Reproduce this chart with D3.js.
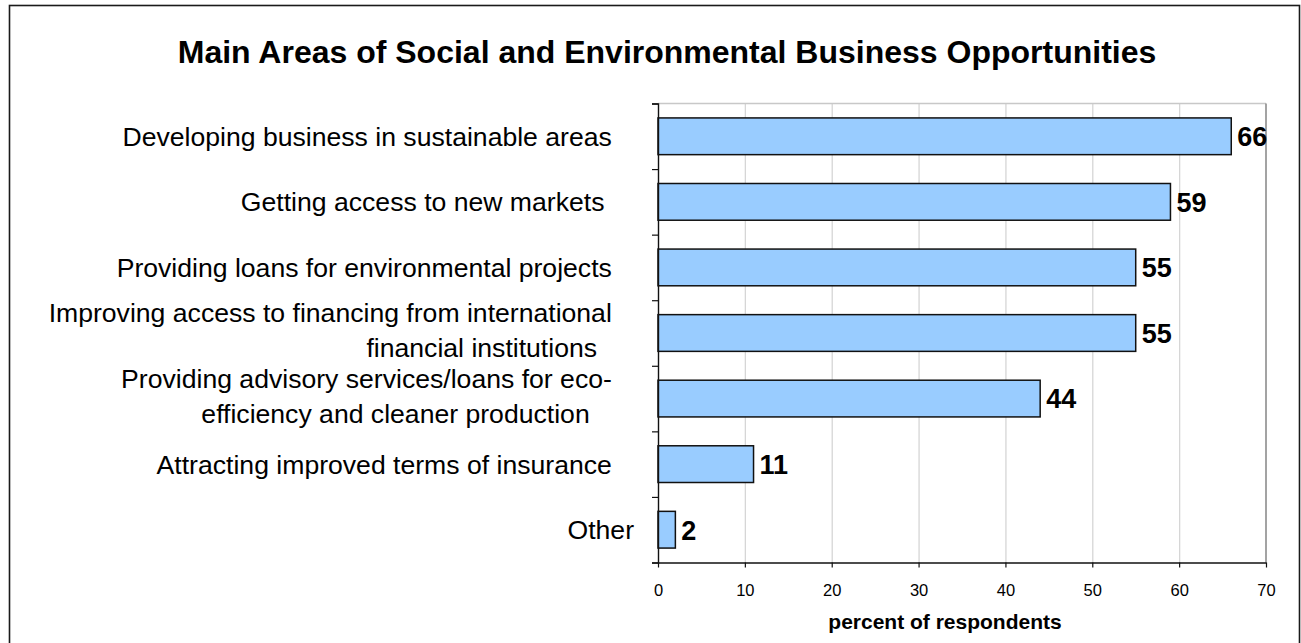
<!DOCTYPE html>
<html>
<head>
<meta charset="utf-8">
<script src="https://cdn.jsdelivr.net/npm/d3@7"></script>
<style>
  html, body { margin: 0; padding: 0; background: #fff; }
  svg { display: block; font-family: "Liberation Sans", Arial, Helvetica, sans-serif; }
  .cat { white-space: pre; }
</style>
</head>
<body>
<svg id="chart" width="1301" height="643"></svg>
<script>
// Survey answers: share of respondents naming each opportunity area
const categories = [
  "Developing business in sustainable areas   ",
  "Getting access to new markets    ",
  "Providing loans for environmental projects   ",
  "Improving access to financing from international   \nfinancial institutions     ",
  "Providing advisory services/loans for eco-   \nefficiency and cleaner production      ",
  "Attracting improved terms of insurance   ",
  "Other"
];
const values = [66, 59, 55, 55, 44, 11, 2];
const xTicks = [0, 10, 20, 30, 40, 50, 60, 70];
const titleText = "Main Areas of Social and Environmental Business Opportunities";
const xTitle = "percent of respondents";

const svg = d3.select("#chart");

// outer frame
svg.append("rect")
  .attr("x", 9.5).attr("y", 5.5)
  .attr("width", 1290).attr("height", 660)
  .attr("fill", "none").attr("stroke", "#1a1a1a").attr("stroke-width", 1.6);

// title
svg.append("text")
  .attr("x", 667).attr("y", 63)
  .attr("text-anchor", "middle")
  .attr("font-size", 32).attr("font-weight", "bold")
  .attr("fill", "#000")
  .text(titleText);

const plot = { left: 658, right: 1266, top: 103.5, bottom: 562.5 };

const x = d3.scaleLinear().domain([0, 70]).range([plot.left, plot.right]);
const y = d3.scaleBand().domain(categories)
  .range([plot.top, plot.bottom])
  .paddingInner(0.44).paddingOuter(0.22);
const boundary = d3.scaleLinear().domain([0, categories.length]).range([plot.top, plot.bottom]);

// vertical gridlines
svg.append("g")
  .attr("transform", `translate(0,${plot.bottom})`)
  .call(d3.axisBottom(x).tickValues(xTicks.slice(1, -1)).tickSize(-(plot.bottom - plot.top)).tickFormat(""))
  .call(g => g.select(".domain").remove())
  .call(g => g.selectAll("line").attr("stroke", "#d6d6d6").attr("stroke-width", 1.3));

// plot frame: light top edge, darker right edge
svg.append("line")
  .attr("x1", plot.left).attr("x2", plot.right)
  .attr("y1", plot.top).attr("y2", plot.top)
  .attr("stroke", "#c8c8c8").attr("stroke-width", 1.3);
svg.append("line")
  .attr("x1", plot.right).attr("x2", plot.right)
  .attr("y1", plot.top).attr("y2", plot.bottom)
  .attr("stroke", "#8c8c8c").attr("stroke-width", 1.6);

// bars
svg.append("g").selectAll("rect")
  .data(values)
  .join("rect")
  .attr("x", x(0))
  .attr("y", (d, i) => y(categories[i]))
  .attr("width", d => x(d) - x(0))
  .attr("height", y.bandwidth())
  .attr("fill", "#99ccff")
  .attr("stroke", "#111")
  .attr("stroke-width", 1.5);

// value labels
svg.append("g").selectAll("text")
  .data(values)
  .join("text")
  .attr("x", d => x(d) + 6)
  .attr("y", (d, i) => y(categories[i]) + y.bandwidth() / 2 + 9.8)
  .attr("font-size", 27).attr("font-weight", "bold")
  .attr("fill", "#000")
  .text(d => d);

// left axis with ticks on category boundaries
svg.append("g")
  .attr("transform", `translate(${plot.left},0)`)
  .call(d3.axisLeft(boundary).ticks(categories.length).tickSize(6).tickFormat(""))
  .call(g => g.select(".domain").attr("stroke", "#111").attr("stroke-width", 1.4))
  .call(g => g.selectAll("line").attr("stroke", "#111").attr("stroke-width", 1.2));

// bottom axis
svg.append("g")
  .attr("transform", `translate(0,${plot.bottom})`)
  .call(d3.axisBottom(x).tickValues(xTicks).tickSize(5).tickPadding(16.5).tickSizeOuter(0))
  .call(g => g.select(".domain").attr("stroke", "#111").attr("stroke-width", 1.4))
  .call(g => g.selectAll("line").attr("stroke", "#111").attr("stroke-width", 1.2))
  .call(g => g.selectAll("text")
    .attr("font-size", 16.5)
    .attr("font-family", "'Liberation Sans', Arial, sans-serif")
    .attr("fill", "#000"));

// x-axis title
svg.append("text")
  .attr("x", 945).attr("y", 629)
  .attr("text-anchor", "middle")
  .attr("font-size", 21).attr("font-weight", "bold")
  .attr("fill", "#000")
  .text(xTitle);

// category labels, right aligned, wrapped lines
const lineGap = 35;
const labels = svg.append("g").selectAll("text")
  .data(categories)
  .join("text")
  .attr("class", "cat")
  .attr("xml:space", "preserve")
  .attr("text-anchor", "end")
  .attr("font-size", 26.6)
  .attr("fill", "#000");

labels.each(function(c) {
  const lines = c.split("\n");
  const center = y(c) + y.bandwidth() / 2 - (lines.length > 1 ? 3 : 0);
  const firstBase = center + 9.5 - (lines.length - 1) * lineGap / 2;
  d3.select(this).selectAll("tspan")
    .data(lines)
    .join("tspan")
    .attr("x", 634)
    .attr("y", (l, k) => firstBase + k * lineGap)
    .text(l => l);
});
</script>
</body>
</html>
